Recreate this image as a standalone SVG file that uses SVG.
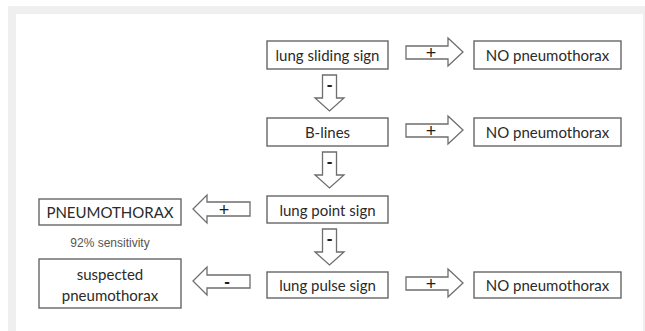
<svg xmlns="http://www.w3.org/2000/svg" width="645" height="331" viewBox="0 0 645 331">
<style>
.box{fill:#fff;stroke:#666;stroke-width:1.4}
.arr{fill:#fff;stroke:#6e6e6e;stroke-width:1.3;stroke-linejoin:miter}
.t{font-family:Lato,"Open Sans",sans-serif;font-size:15px;fill:#2a2a2a;text-anchor:middle;dominant-baseline:central}
.s{font-family:"Liberation Sans",Arial,sans-serif;font-size:12px;fill:#555;text-anchor:middle;dominant-baseline:central}
.sg{font-family:"Liberation Sans",Arial,sans-serif;font-size:18px;fill:#1e1e1e;text-anchor:middle;dominant-baseline:central}
.sm{font-family:"Liberation Sans",Arial,sans-serif;font-size:17px;font-weight:bold;fill:#1e1e1e;text-anchor:middle;dominant-baseline:central}
</style>
<rect x="0" y="0" width="645" height="331" fill="#fff"/>
<rect x="8" y="6" width="637" height="325" fill="#efefef"/>
<rect x="16" y="14" width="627" height="317" fill="#fff"/>

<g id="connectors">
  <g id="a1"><polygon class="arr" points="406,46 448,46 448,38 463,52 448,66 448,59 406,59"/><text class="sg" x="431" y="53">+</text></g>
  <g id="a2"><polygon class="arr" points="406,124 448,124 448,116 463,130 448,144 448,137 406,137"/><text class="sg" x="431" y="131">+</text></g>
  <g id="a3"><polygon class="arr" points="406,277 448,277 448,269 463,283 448,297 448,290 406,290"/><text class="sg" x="431" y="284">+</text></g>
  <g id="a4"><polygon class="arr" points="250,202 207,202 207,195 193,209 207,223 207,216 250,216"/><text class="sg" x="224" y="210">+</text></g>
  <g id="a5"><polygon class="arr" points="250,275 207,275 207,267 193,281 207,295 207,288 250,288"/><text class="sm" x="227" y="281">-</text></g>
  <g id="d1"><polygon class="arr" points="322.5,75 336.5,75 336.5,98 344,98 329.5,111 315,98 322.5,98"/><text class="sm" x="329.5" y="84">-</text></g>
  <g id="d2"><polygon class="arr" points="322.5,152 336.5,152 336.5,175 344,175 329.5,188 315,175 322.5,175"/><text class="sm" x="329.5" y="161">-</text></g>
  <g id="d3"><polygon class="arr" points="322.5,229 336.5,229 336.5,252 344,252 329.5,265 315,252 322.5,252"/><text class="sm" x="329.5" y="238">-</text></g>
</g>

<g id="n-sliding"><rect class="box" x="267" y="41" width="121" height="28"/><text class="t" x="327.5" y="55">lung sliding sign</text></g>
<g id="n-no1"><rect class="box" x="474" y="41" width="147" height="28"/><text class="t" x="547.5" y="55">NO pneumothorax</text></g>
<g id="n-blines"><rect class="box" x="267" y="118" width="121" height="28"/><text class="t" x="327.5" y="132">B-lines</text></g>
<g id="n-no2"><rect class="box" x="474" y="118" width="147" height="28"/><text class="t" x="547.5" y="132">NO pneumothorax</text></g>
<g id="n-point"><rect class="box" x="267" y="196" width="121" height="27"/><text class="t" x="327.5" y="209.5">lung point sign</text></g>
<g id="n-ptx"><rect class="box" x="39" y="199" width="142" height="26"/><text class="t" x="110" y="212">PNEUMOTHORAX</text></g>
<g id="n-sens"><text class="s" x="110" y="243">92% sensitivity</text></g>
<g id="n-pulse"><rect class="box" x="267" y="272" width="121" height="26"/><text class="t" x="327.5" y="285">lung pulse sign</text></g>
<g id="n-susp"><rect class="box" x="39" y="259" width="142" height="49"/><text class="t" x="110" y="274">suspected</text><text class="t" x="110" y="295">pneumothorax</text></g>
<g id="n-no3"><rect class="box" x="474" y="272" width="147" height="26"/><text class="t" x="547.5" y="285">NO pneumothorax</text></g>
</svg>
